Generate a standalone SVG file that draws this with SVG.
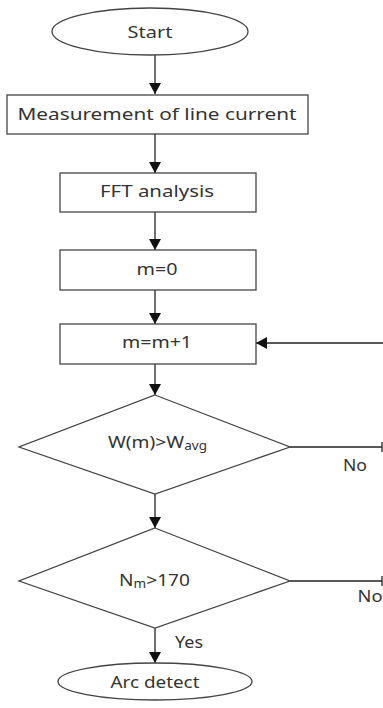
<svg xmlns="http://www.w3.org/2000/svg" width="383" height="708" viewBox="0 0 383 708">
<defs>
<style>
.n{fill:#fff;stroke:#444;stroke-width:1.3}
.t{font-family:"Noto Sans","Open Sans",sans-serif;font-size:17px;fill:#333;text-anchor:middle}
.s{font-size:16px}
.c{stroke:#222;stroke-width:1.3;fill:none}
</style>
<marker id="ah" markerWidth="11" markerHeight="12" refX="11" refY="6" orient="auto" markerUnits="userSpaceOnUse">
<path d="M0,0 L11,6 L0,12 Z" fill="#111"/>
</marker>
</defs>
<rect width="383" height="708" fill="#fff"/>
<g id="connectors">
<line class="c" x1="155" y1="55" x2="155" y2="94" marker-end="url(#ah)"/>
<line class="c" x1="155" y1="134" x2="155" y2="173" marker-end="url(#ah)"/>
<line class="c" x1="155" y1="212" x2="155" y2="250" marker-end="url(#ah)"/>
<line class="c" x1="155" y1="290" x2="155" y2="324" marker-end="url(#ah)"/>
<line class="c" x1="383" y1="343" x2="256" y2="343" marker-end="url(#ah)"/>
<line class="c" x1="155" y1="364" x2="155" y2="395" marker-end="url(#ah)"/>
<line class="c" x1="290" y1="447" x2="382" y2="447"/>
<line class="c" x1="382" y1="442" x2="382" y2="452"/>
<line class="c" x1="155" y1="494" x2="155" y2="528" marker-end="url(#ah)"/>
<line class="c" x1="290" y1="581" x2="382" y2="581"/>
<line class="c" x1="382" y1="576" x2="382" y2="586"/>
<line class="c" x1="155" y1="628" x2="155" y2="663" marker-end="url(#ah)"/>
<text class="t s" x="355" y="471" textLength="24" lengthAdjust="spacingAndGlyphs">No</text>
<text class="t s" x="370" y="602" textLength="25" lengthAdjust="spacingAndGlyphs">No</text>
<text class="t s" x="189" y="648" textLength="28" lengthAdjust="spacingAndGlyphs">Yes</text>
</g>
<g id="start">
<ellipse class="n" cx="150" cy="31.5" rx="98" ry="23.5"/>
<text class="t" x="150" y="38" textLength="45" lengthAdjust="spacingAndGlyphs">Start</text>
</g>
<g id="measure">
<rect class="n" x="7" y="95" width="301" height="39"/>
<text class="t" x="157" y="120" textLength="279" lengthAdjust="spacingAndGlyphs">Measurement of line current</text>
</g>
<g id="fft">
<rect class="n" x="60" y="173" width="196" height="39"/>
<text class="t" x="157" y="197" textLength="114" lengthAdjust="spacingAndGlyphs">FFT analysis</text>
</g>
<g id="m0">
<rect class="n" x="60" y="250" width="196" height="40"/>
<text class="t" x="157" y="275" textLength="41" lengthAdjust="spacingAndGlyphs">m=0</text>
</g>
<g id="minc">
<rect class="n" x="60" y="324" width="196" height="40"/>
<text class="t" x="157" y="348" textLength="70" lengthAdjust="spacingAndGlyphs">m=m+1</text>
</g>
<g id="cond1">
<polygon class="n" points="155,395 290,447 155,494 19,447"/>
<text class="t" x="157.5" y="448" textLength="99" lengthAdjust="spacingAndGlyphs">W(m)&gt;W<tspan font-size="12" dy="2">avg</tspan></text>
</g>
<g id="cond2">
<polygon class="n" points="155,528 290,581 155,628 19,581"/>
<text class="t" x="154.5" y="586" textLength="71" lengthAdjust="spacingAndGlyphs">N<tspan font-size="12" dy="2">m</tspan><tspan dy="-2">&gt;170</tspan></text>
</g>
<g id="arc">
<ellipse class="n" cx="155" cy="681.5" rx="97" ry="18.5"/>
<text class="t" x="155" y="688" textLength="89" lengthAdjust="spacingAndGlyphs">Arc detect</text>
</g>
</svg>
